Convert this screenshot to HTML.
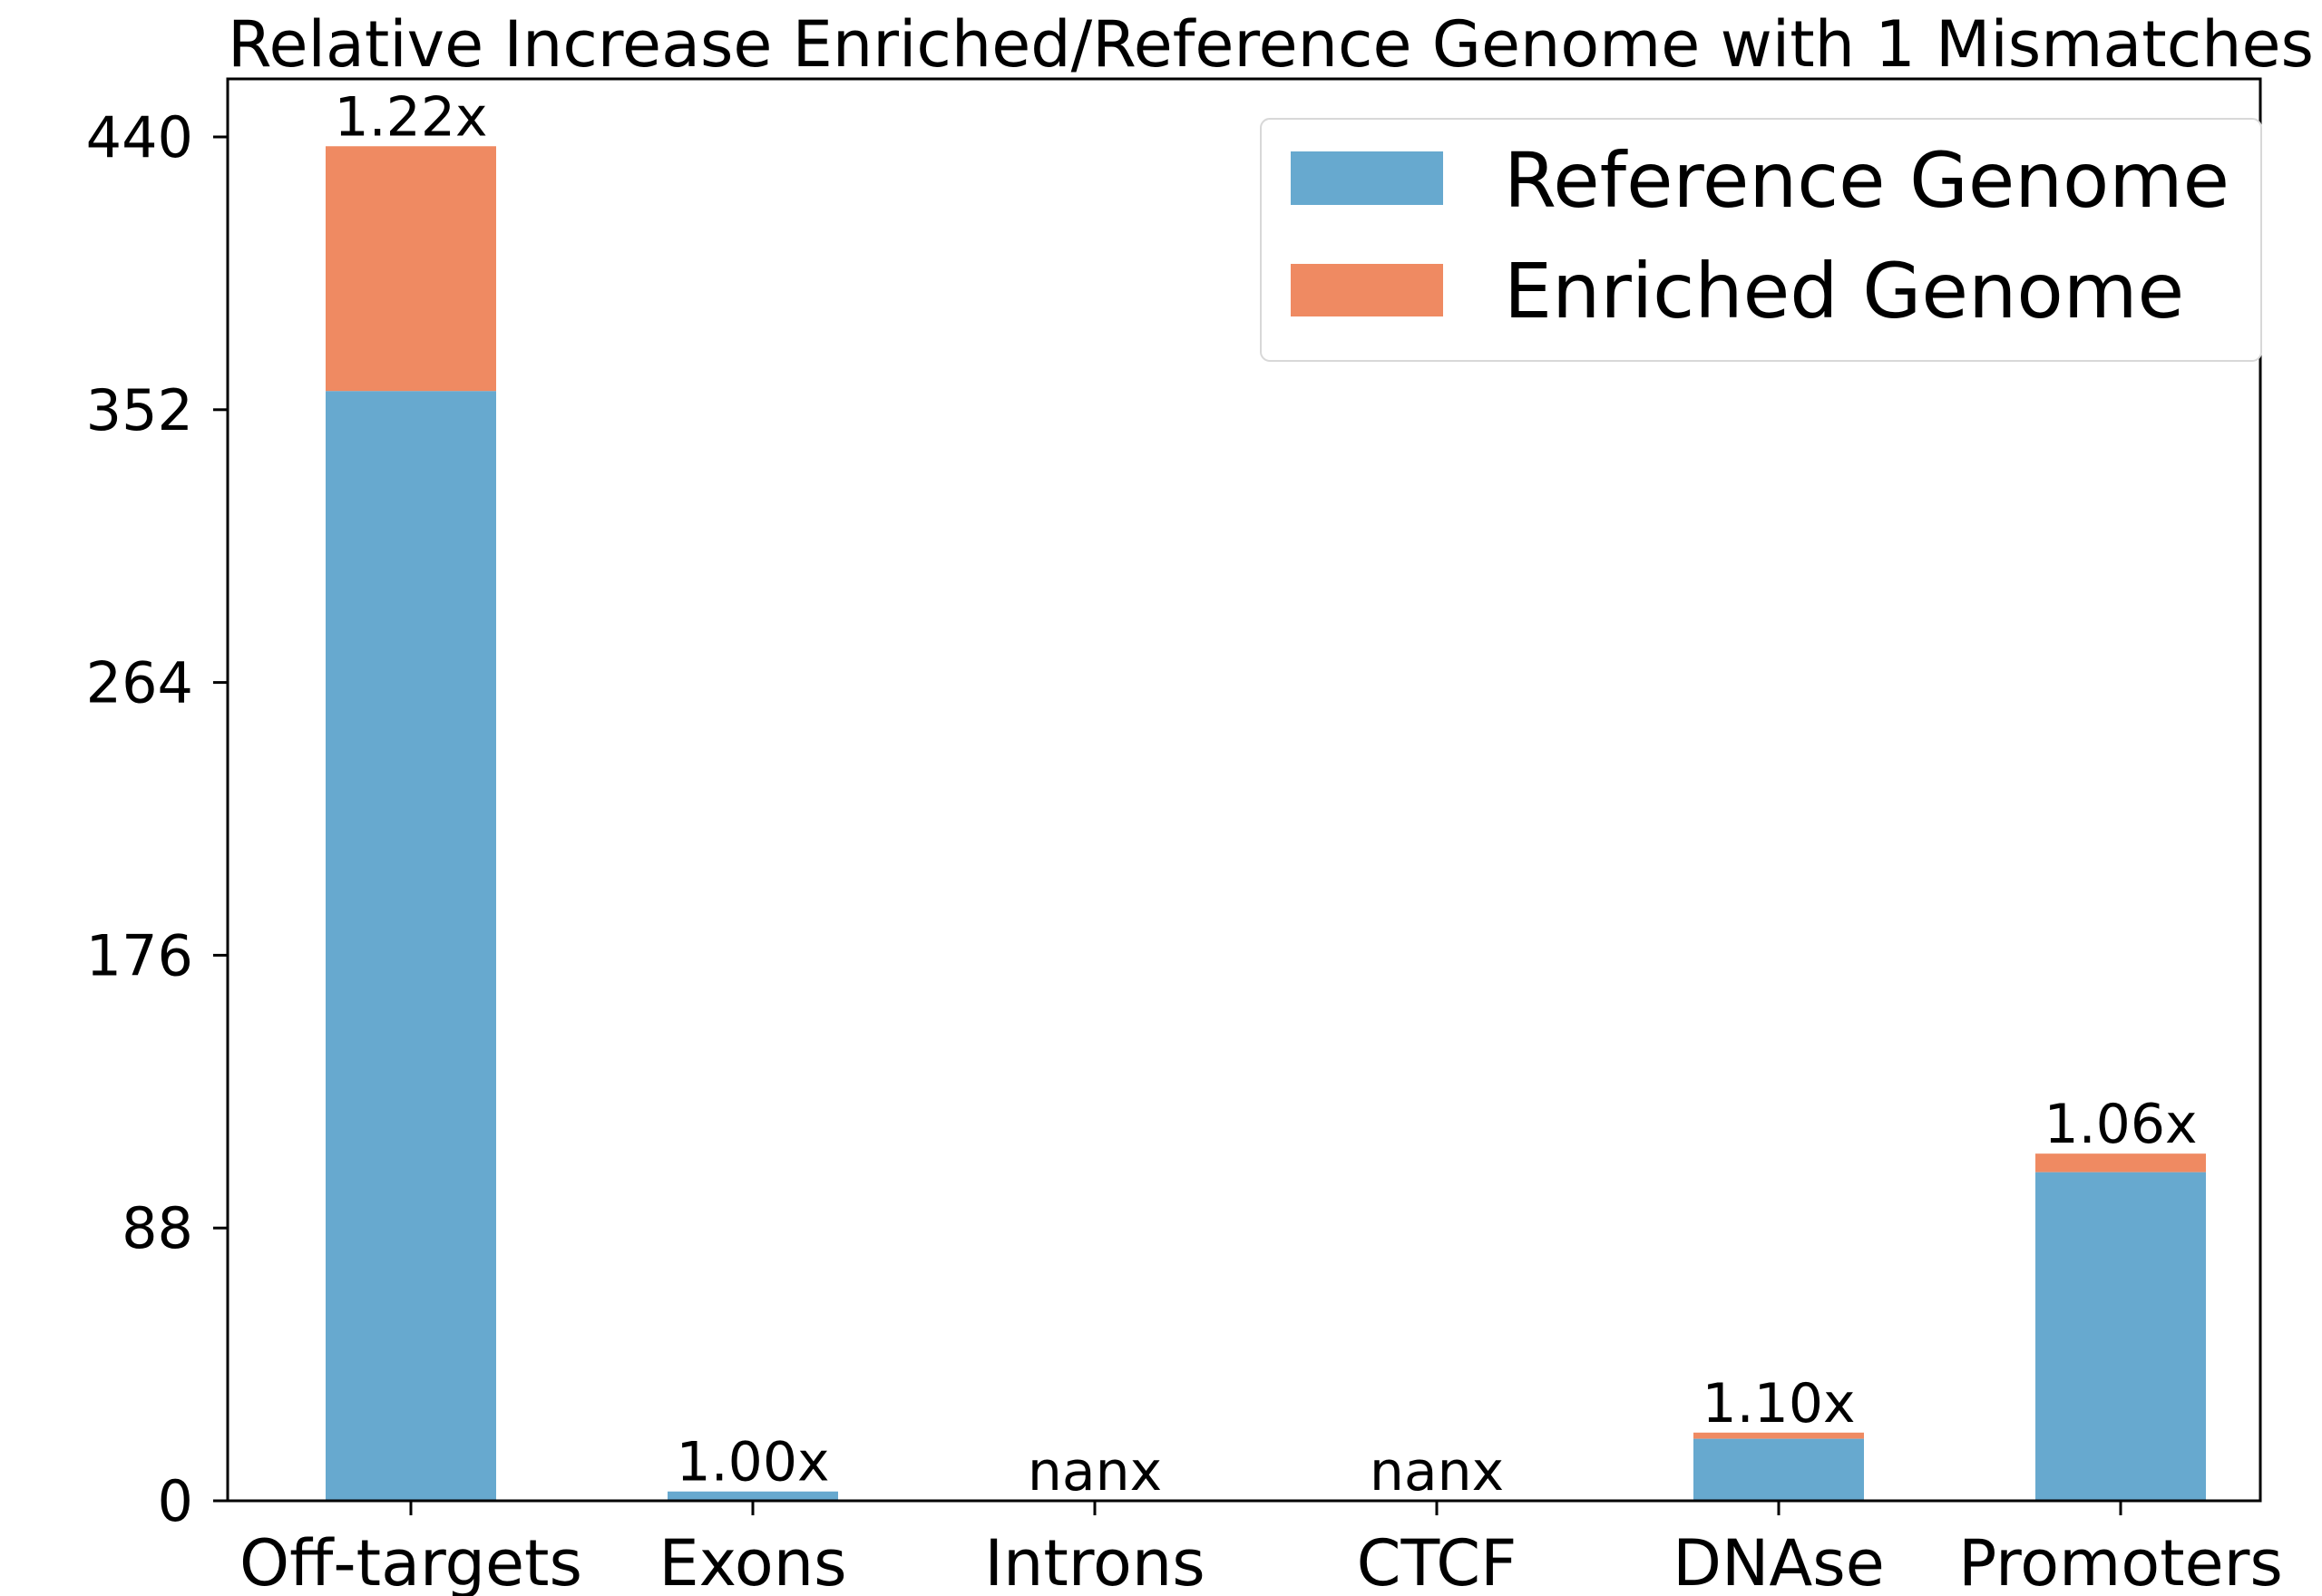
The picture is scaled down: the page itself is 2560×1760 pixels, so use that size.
<!DOCTYPE html>
<html><head><meta charset="utf-8"><style>html,body{margin:0;padding:0;background:#fff}svg{display:block}</style></head>
<body>
<svg id="chart" width="2560" height="1760" viewBox="0 0 2560 1760" xmlns="http://www.w3.org/2000/svg" font-family="'DejaVu Sans','Liberation Sans',sans-serif">
<rect width="2560" height="1760" fill="#fff"/>
<text x="251" y="73" font-size="70" textLength="2300" lengthAdjust="spacingAndGlyphs">Relative Increase Enriched/Reference Genome with 1 Mismatches</text>
<g id="plot"></g>
<g>
<rect x="1390" y="131" width="1103" height="267" rx="10" fill="#fff" stroke="#d8d8d8" stroke-width="2"/>
<rect x="1423" y="167" width="168" height="59" fill="#67a9cf"/>
<text x="1658" y="228" font-size="84" textLength="800" lengthAdjust="spacingAndGlyphs">Reference Genome</text>
<rect x="1423" y="291" width="168" height="58" fill="#ef8a62"/>
<text x="1658" y="350" font-size="84">Enriched Genome</text>
</g>
</svg>
<script>
const categories = ["Off-targets","Exons","Introns","CTCF","DNAse","Promoters"];
const referenceValues = [358, 3, 0, 0, 20, 106];
const enrichedValues = [437, 3, 0, 0, 22, 112];
const ratioLabels = ["1.22x","1.00x","nanx","nanx","1.10x","1.06x"];
const yTicks = [0, 88, 176, 264, 352, 440];

const NS = "http://www.w3.org/2000/svg";
const plot = document.getElementById("plot");
const L = 251, R = 2492, T = 87, B = 1655;
const yMax = 440, yTop = 151;
function y(v){ return B - v * (B - yTop) / yMax; }
const step = 377, x0 = 453, bw = 188;
function xc(i){ return x0 + i * step; }
function mk(tag, attrs){ const e = document.createElementNS(NS, tag); for (const k in attrs) e.setAttribute(k, attrs[k]); plot.appendChild(e); return e; }

categories.forEach((c, i) => {
  const yr = y(referenceValues[i]), ye = y(enrichedValues[i]);
  if (enrichedValues[i] > referenceValues[i]) {
    const eb = mk("rect", {x: xc(i) - bw/2, y: ye, width: bw, height: yr - ye, fill: "#ef8a62"});
    
    
  }
  const rb = mk("rect", {x: xc(i) - bw/2, y: yr, width: bw, height: B - yr, fill: "#67a9cf"});
  
  
  const lbl = mk("text", {x: xc(i), y: Math.min(ye, yr) - 12, "font-size": 60, "text-anchor": "middle"});
  lbl.textContent = ratioLabels[i];
  
  
  const tk = mk("line", {x1: xc(i), x2: xc(i), y1: B, y2: B + 16, stroke: "#000", "stroke-width": 3});
  
  
  const xl = mk("text", {x: xc(i), y: 1748, "font-size": 70, "text-anchor": "middle"});
  xl.textContent = c;
  
  
});

yTicks.forEach(v => {
  const tk = mk("line", {x1: L - 16, x2: L, y1: y(v), y2: y(v), stroke: "#000", "stroke-width": 3});
  
  
  const tl = mk("text", {x: L - 38, y: y(v) + 22, "font-size": 62, "text-anchor": "end"});
  tl.textContent = v;
  
  
});

const frame = mk("rect", {x: L, y: T, width: R - L, height: B - T, fill: "none", stroke: "#000", "stroke-width": 3});


</script>
</body></html>
